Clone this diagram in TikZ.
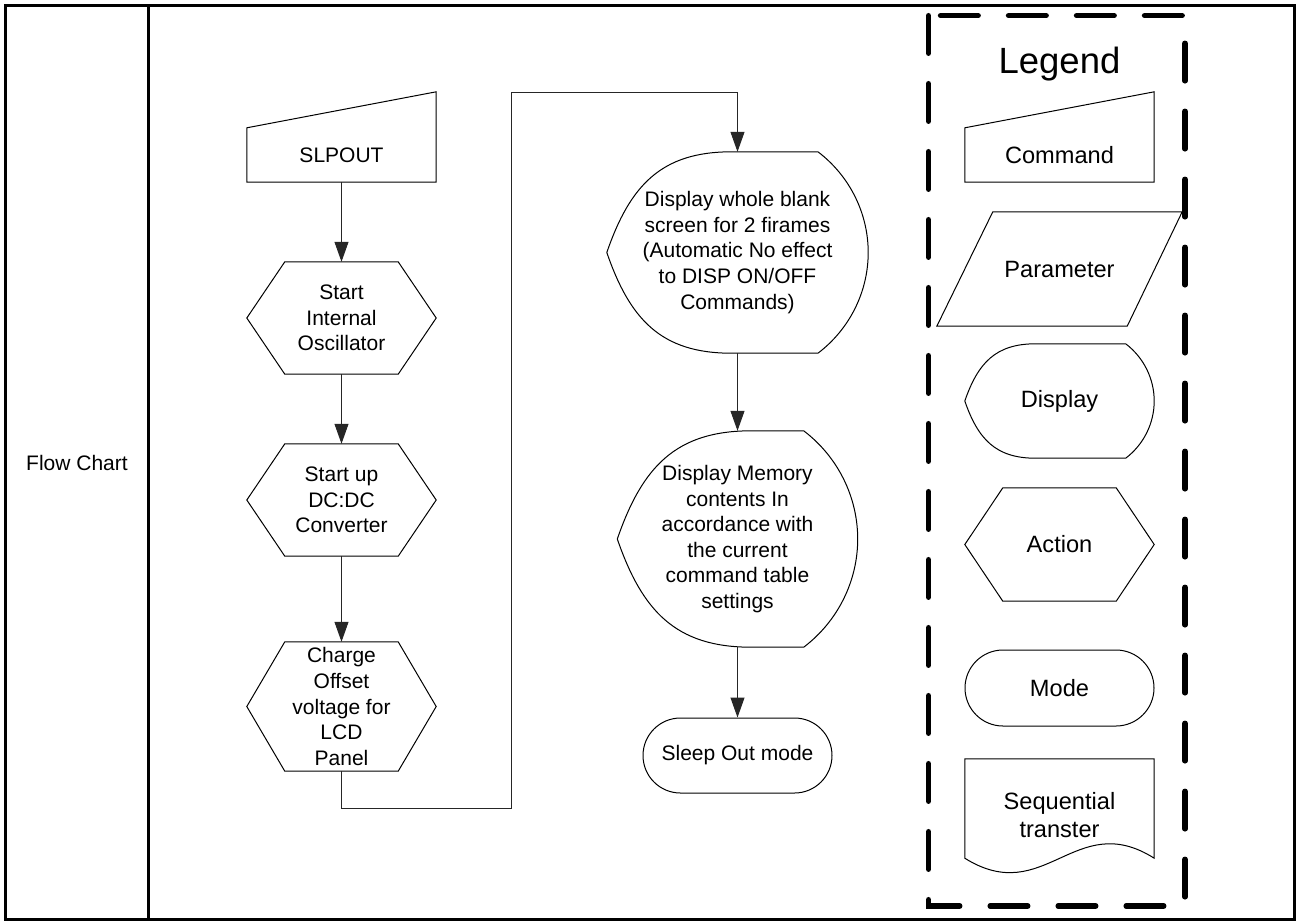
\documentclass[tikz,border=0pt]{standalone}
\usepackage{fontspec}
\setmainfont{Liberation Sans}
\usetikzlibrary{calc,arrows.meta,shapes.misc}
\newcommand\myhexout[2]{\draw[shp] ($(#1.north west)+(#2,0)$) -- ($(#1.north east)+(-#2,0)$) -- (#1.east) -- ($(#1.south east)+(-#2,0)$) -- ($(#1.south west)+(#2,0)$) -- (#1.west) -- cycle;}
\newcommand\mycmdout[1]{\draw[shp] (#1.north west) -- (#1.south west) -- (#1.south east) -- ($(#1.north east)+(0,-36)$) -- cycle;}
% display outline, scaled by the height #2
\newcommand\mydispout[2]{\draw[shp] ($(#1.north west)+(0.62*#2,0)$) -- ($(#1.north east)+(-0.25*#2,0)$)
   .. controls +(0.158*#2,0.12*#2) and +(0,-0.195*#2) .. (#1.east)
   .. controls +(0,0.195*#2) and +(0.158*#2,-0.12*#2) .. ($(#1.south east)+(-0.25*#2,0)$)
   -- ($(#1.south west)+(0.62*#2,0)$)
   .. controls +(-0.35*#2,0) and +(0.115*#2,0.333*#2) .. (#1.west)
   .. controls +(0.115*#2,-0.333*#2) and +(-0.35*#2,0) .. ($(#1.north west)+(0.62*#2,0)$) -- cycle;}
\begin{document}
\begin{tikzpicture}[x=1pt,y=-1pt,
  txt/.style={font=\fontsize{21}{25.6}\selectfont, align=center, inner sep=0pt},
  ltxt/.style={font=\fontsize{23.6}{28}\selectfont, align=center, inner sep=0pt},
  shp/.style={draw=black, line width=1pt},
  stadium/.style={rounded rectangle, draw=black, line width=1pt},
  arr/.style={draw=black!85, line width=1pt, -{Triangle[length=20pt,width=14pt]}},
  frame/.style={draw=black, line width=3pt},
  legendbox/.style={draw=black, line width=5.5pt, dash pattern=on 37.5pt off 30.5pt, line cap=round}]
\useasboundingbox (0,0) rectangle (1296,922);
% frame
\draw[frame] (5,5.5) rectangle (1294,919.5);
\draw[frame] (148.5,5.5) -- (148.5,919.5);
\node[txt] (lbl) at (77,463) {Flow Chart};
% flow column 1
\node[txt, minimum width=189pt, minimum height=54pt] (cmd) at (341.5,155) {SLPOUT};
\mycmdout{cmd}
\node[txt, minimum width=189pt, minimum height=112pt] (h1) at (341.5,318) {Start\\Internal\\Oscillator};
\myhexout{h1}{38}
\node[txt, minimum width=189pt, minimum height=112pt] (h2) at (341.5,500) {Start up\\DC:DC\\Converter};
\myhexout{h2}{38}
\node[txt, minimum width=189pt, minimum height=129pt] (h3) at (341.5,706.5) {Charge\\Offset\\voltage for\\LCD\\Panel};
\myhexout{h3}{38}
% flow column 2
\node[txt, minimum width=261pt, minimum height=201pt] (d1) at (737.5,252.5) {Display whole blank\\screen for 2 firames\\(Automatic No effect\\to DISP ON/OFF\\Commands)};
\mydispout{d1}{201}
\node[txt, minimum width=240pt, minimum height=216pt] (d2) at (737.5,539) {Display Memory\\contents In\\accordance with\\the current\\command table\\settings};
\mydispout{d2}{216}
\node[txt, stadium, minimum width=189pt, minimum height=75pt] (sleep) at (737.5,755.5) {Sleep Out mode};
% connectors
\draw[arr] (cmd.south) -- (h1.north);
\draw[arr] (h1.south) -- (h2.north);
\draw[arr] (h2.south) -- (h3.north);
\coordinate (j1) at (511,808);
\coordinate (j2) at (511,92);
\draw[arr] (h3.south) |- (j1) -- (j2) -| (d1.north);
\draw[arr] (d1.south) -- (d2.north);
\draw[arr] (d2.south) -- (sleep.north);
% legend
\draw[legendbox] (928.5,15.7) rectangle (1185,906);
\node[font=\fontsize{36.5}{40}\selectfont, inner sep=0pt] (ltitle) at (1059.5,64) {Legend};
\node[ltxt, minimum width=189pt, minimum height=54pt] (lcmd) at (1059.5,155) {Command};
\mycmdout{lcmd}
\node[ltxt, minimum width=245pt, minimum height=114pt] (lpar) at (1059.5,269) {Parameter};
\draw[shp] ($(lpar.north west)+(56,0)$) -- (lpar.north east) -- ($(lpar.south east)+(-55,0)$) -- (lpar.south west) -- cycle;
\node[ltxt, minimum width=189pt, minimum height=114pt] (ldisp) at (1059.5,401) {Display};
\mydispout{ldisp}{114}
\node[ltxt, minimum width=189pt, minimum height=113pt] (lact) at (1059.5,544.5) {Action};
\myhexout{lact}{38}
\node[ltxt, stadium, minimum width=189pt, minimum height=76pt] (lmode) at (1059.5,688) {Mode};
\node[ltxt, minimum width=189pt, minimum height=112pt] (lseq) at (1059.5,815) {Sequential\\transter};
\draw[shp] (lseq.north west) -- ($(lseq.south west)+(0,-13)$) .. controls +(80,50) and +(-79,-50) .. ($(lseq.south east)+(0,-13)$) -- (lseq.north east) -- cycle;
\end{tikzpicture}
\end{document}
